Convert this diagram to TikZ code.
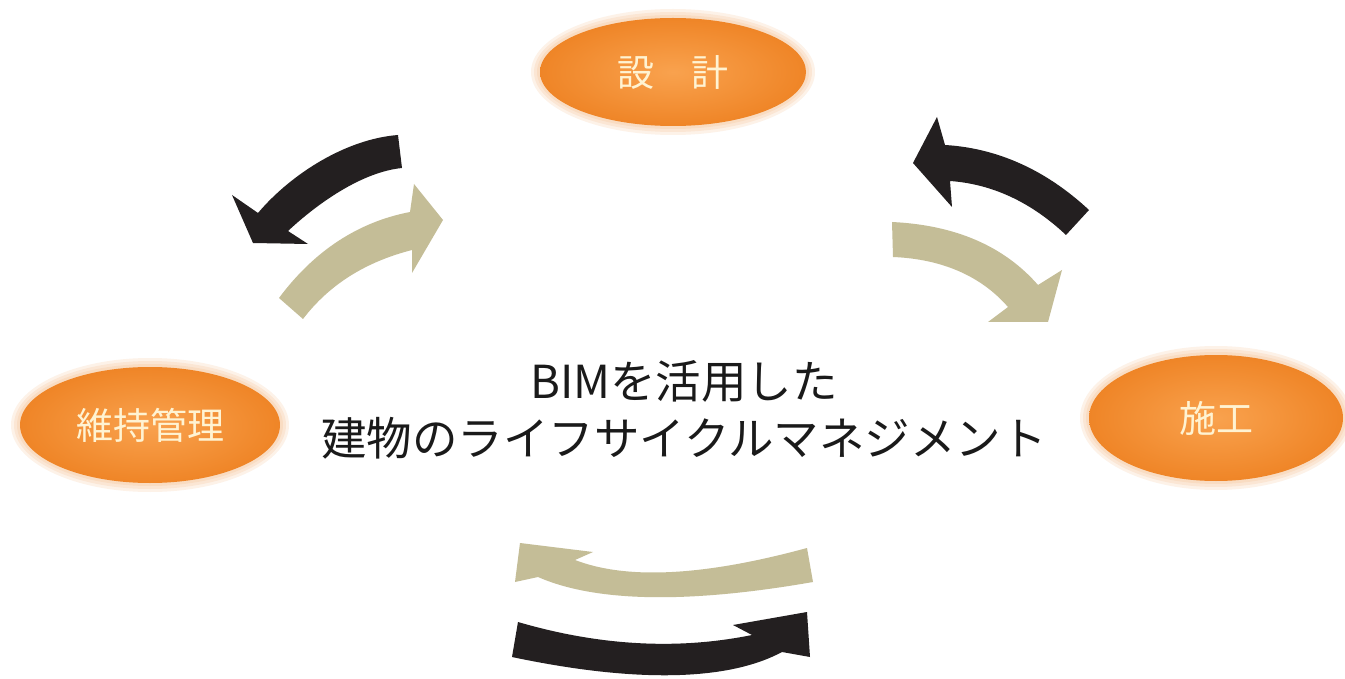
\documentclass[tikz,border=0pt]{standalone}
\usepackage{fontspec}
\setmainfont{Noto Sans CJK JP}
\usetikzlibrary{shapes.geometric}
\definecolor{arrblack}{HTML}{231F20}
\definecolor{arrtan}{HTML}{C4BD97}
\definecolor{orin}{HTML}{F9A24E}
\definecolor{orout}{HTML}{EF8527}
\definecolor{cream}{HTML}{FFF3D2}
\definecolor{titlecol}{HTML}{1A1A1A}
\tikzset{
  stage/.style={ellipse, inner sep=0pt, inner color=orin, outer color=orout,
    text=cream, font=\fontsize{37}{40}\selectfont},
  halo/.style={fill=orout, opacity=0.10},
  blackarrow/.style={fill=arrblack},
  tanarrow/.style={fill=arrtan}
}
\begin{document}
\begin{tikzpicture}[x=1pt,y=-1pt]
\useasboundingbox[fill=white] (0,0) rectangle (1345,679);

% halos
\foreach \d in {3,6,9}{
  \path[halo] (673,72) ellipse [x radius=133pt+\d pt, y radius=54pt+\d pt];
  \path[halo] (150,425) ellipse [x radius=130pt+\d pt, y radius=58pt+\d pt];
  \path[halo] (1216,418) ellipse [x radius=127pt+\d pt, y radius=63pt+\d pt];
}

\node[stage, minimum width=266pt, minimum height=108pt] (design) at (673,72) {設　計};
\node[stage, minimum width=260pt, minimum height=116pt] (maint) at (150,425) {維持管理};
\node[stage, minimum width=254pt, minimum height=126pt] (build) at (1216,418) {施工};

\node[font=\fontsize{45.5}{57}\selectfont, align=center, text=titlecol] (title) at (684,410)
  {BIMを活用した\\建物のライフサイクルマネジメント};

% top-left pair
\path[blackarrow] (398,135) .. controls (346,139) and (291,174) .. (258,213) -- (232,195) -- (253,243) -- (308,244) -- (288,231)
  .. controls (318,203) and (362,172) .. (402,168) -- cycle;
\path[tanarrow] (279,298) .. controls (314,251) and (358,222) .. (410,212) -- (414,184) -- (443,220) -- (412,273) -- (412,250)
  .. controls (365,262) and (329,285) .. (303,319) -- cycle;

% top-right pair
\path[blackarrow] (1089,210) .. controls (1045,169) and (996,148) .. (945,145) -- (937,117) -- (913,163) -- (952,207) -- (950,181)
  .. controls (992,184) and (1031,202) .. (1066,235) -- cycle;
\path[tanarrow] (892,222) .. controls (955,225) and (1004,246) .. (1038,285) -- (1062,270) -- (1048,322) -- (988,322) -- (1008,307)
  .. controls (981,276) and (942,259) .. (893,257) -- cycle;

% bottom pair
\path[tanarrow] (807,548) -- (813,582) .. controls (687,604) and (595,602) .. (538,577) -- (515,582) -- (520,543) -- (593,552) -- (575,560)
  .. controls (627,580) and (704,576) .. (807,548) -- cycle;
\path[blackarrow] (518,622) -- (512,657) .. controls (640,684) and (730,680) .. (782,652) -- (810,657) -- (807,612) -- (733,625) -- (752,635)
  .. controls (678,650) and (600,646) .. (518,622) -- cycle;
\end{tikzpicture}
\end{document}
